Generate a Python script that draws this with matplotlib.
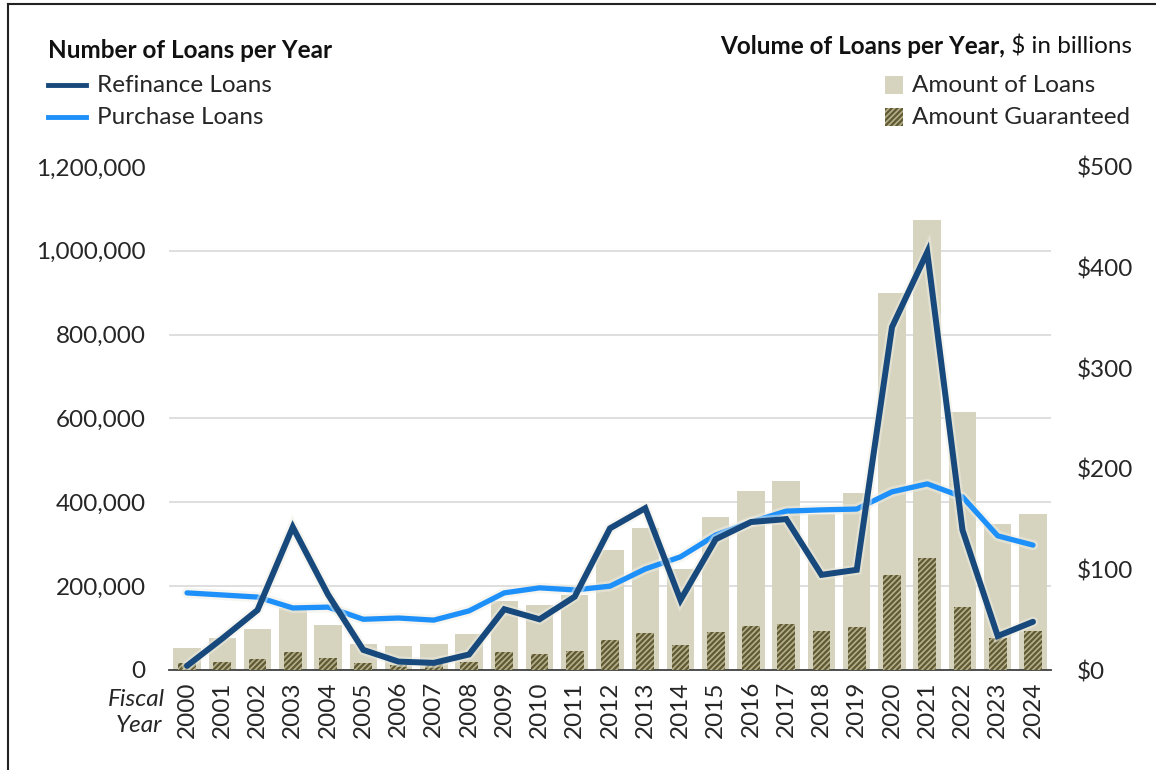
import matplotlib
matplotlib.use("Agg")
import matplotlib.pyplot as plt
import matplotlib.patheffects as pe
from matplotlib.lines import Line2D
from matplotlib.patches import Rectangle
import numpy as np

plt.rcParams['font.family'] = ['Lato', 'DejaVu Sans']
plt.rcParams['hatch.linewidth'] = 1.6

years = [str(y) for y in range(2000, 2025)]
refinance = [10000, 75000, 143000, 341000, 180000, 48000, 20000, 17000, 37000, 145000,
             121000, 175000, 338000, 386000, 167000, 312000, 353000, 360000, 227000, 239000,
             818000, 997000, 334000, 81000, 115000]
purchase = [184000, 179000, 174000, 148000, 150000, 121000, 124000, 119000, 141000, 184000,
            196000, 191000, 200000, 241000, 270000, 322000, 353000, 379000, 382000, 384000,
            425000, 444000, 413000, 320000, 298000]
amount_loans = [22, 32, 41, 62, 45, 26, 24, 26, 36, 69,
                65, 75, 119, 141, 100, 152, 178, 188, 155, 176,
                375, 447, 256, 145, 155]
amount_guaranteed = [7, 8, 11, 18, 12, 7, 5, 6, 8, 18,
                     16, 19, 30, 37, 25, 38, 44, 46, 39, 43,
                     94, 111, 63, 32, 39]
left_ticks = [0, 200000, 400000, 600000, 800000, 1000000, 1200000]
right_ticks = [0, 100, 200, 300, 400, 500]

W, H = 1156, 770
FS = 17.5
fig = plt.figure(figsize=(W / 100, H / 100), dpi=100)
ax2 = fig.add_axes([169.4 / W, 1 - 670 / H, (1050.6 - 169.4) / W, (670 - 167) / H])
ax = ax2.twinx()
ax.yaxis.set_label_position('left')
ax.yaxis.tick_left()
ax2.yaxis.set_label_position('right')
ax2.yaxis.tick_right()
ax.set_zorder(2)
ax2.set_zorder(1)
ax.patch.set_visible(False)

x = np.arange(len(years))
txt = '#262626'

# bars (right axis)
ax2.bar(x, amount_loans, width=0.78, color='#D6D4BF', linewidth=0, zorder=2)
ax2.bar(x, amount_guaranteed, width=0.5, facecolor='#B4AF8A', edgecolor='#5F5A33',
        hatch='//////', linewidth=0, zorder=3)
ax2.set_ylim(0, 500)
ax2.set_yticks(right_ticks)
ax2.set_yticklabels([f'${v}' for v in right_ticks], fontsize=FS, color=txt)
ax2.set_yticks([v * 500 / 1.2e6 for v in left_ticks[1:]], minor=True)
ax2.grid(True, which='minor', axis='y', color='#D9D9D9', linewidth=1.2, zorder=0)
ax2.grid(False, which='major')
ax2.tick_params(axis='y', which='both', length=0, pad=19)
ax2.set_axisbelow(True)

# lines (left axis)
glow = [pe.Stroke(linewidth=7.5, foreground='#EEEDE3', alpha=0.5), pe.Normal()]
ax.plot(x, purchase, color='#1E90FA', linewidth=3.8, solid_capstyle='round',
        solid_joinstyle='round', path_effects=glow, zorder=3)
ax.plot(x, refinance, color='#17497C', linewidth=4.3, solid_capstyle='round',
        solid_joinstyle='miter', path_effects=glow, zorder=4)
ax.set_ylim(0, 1200000)
ax.set_yticks(left_ticks)
ax.set_yticklabels([f'{v:,}' for v in left_ticks], fontsize=FS, color=txt)
ax.tick_params(axis='y', length=0, pad=17)

ax2.set_xlim(-0.5, len(years) - 0.5)
ax2.set_xticks(x)
ax2.set_xticklabels(years, rotation=90, fontsize=FS, color=txt)
ax2.tick_params(axis='x', length=0, pad=8)
ax.tick_params(axis='x', length=0)

for a in (ax, ax2):
    for s in a.spines.values():
        s.set_visible(False)
ax2.spines['bottom'].set_visible(True)
ax2.spines['bottom'].set_color('#404040')
ax2.spines['bottom'].set_linewidth(1.3)

# Fiscal Year label
fig.text(165 / W, 1 - 700 / H, 'Fiscal', style='italic', fontsize=FS, color=txt,
         ha='right', va='center')
fig.text(162 / W, 1 - 726 / H, 'Year', style='italic', fontsize=FS, color=txt,
         ha='right', va='center')

# left legend
fig.text(48 / W, 1 - 50 / H, 'Number of Loans per Year', fontsize=FS, fontweight='bold',
         color='#111111', ha='left', va='center')
for yy, col, lab in [(85, '#17497C', 'Refinance Loans'), (117, '#1E90FA', 'Purchase Loans')]:
    fig.add_artist(Line2D([48 / W, 86 / W], [1 - yy / H, 1 - yy / H], color=col, linewidth=3.5))
    fig.text(97 / W, 1 - yy / H, lab, fontsize=FS, color=txt, ha='left', va='center')

# right legend
t1 = fig.text(1132 / W, 1 - 46 / H, ' $ in billions', fontsize=FS, color='#111111',
              ha='right', va='center')
fig.canvas.draw()
bb = t1.get_window_extent()
fig.text(bb.x0 / W, 1 - 46 / H, 'Volume of Loans per Year,', fontsize=FS,
         fontweight='bold', color='#111111', ha='right', va='center')
fig.add_artist(Rectangle((885 / W, 1 - 94 / H), 18 / W, 18 / H, facecolor='#D6D4BF',
                         linewidth=0, transform=fig.transFigure))
fig.add_artist(Rectangle((885 / W, 1 - 126 / H), 18 / W, 18 / H, facecolor='#B4AF8A',
                         edgecolor='#5F5A33', hatch='//////', linewidth=0,
                         transform=fig.transFigure))
fig.text(912 / W, 1 - 85 / H, 'Amount of Loans', fontsize=FS, color=txt, ha='left', va='center')
fig.text(912 / W, 1 - 117 / H, 'Amount Guaranteed', fontsize=FS, color=txt, ha='left', va='center')

# border (left and top)
fig.add_artist(Line2D([8 / W, 8 / W], [0, 1 - 4 / H], color='#222222', linewidth=1.5))
fig.add_artist(Line2D([8 / W, 1], [1 - 4 / H, 1 - 4 / H], color='#222222', linewidth=1.5))

fig.savefig('out.png', dpi=100)
